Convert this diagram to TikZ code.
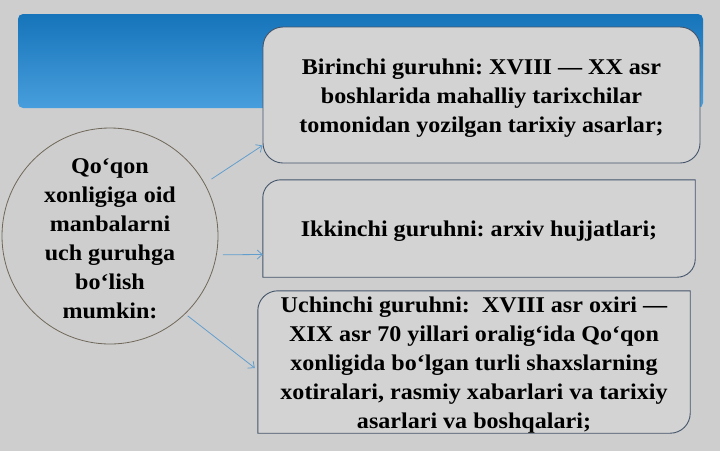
\documentclass[tikz,border=0pt]{standalone}
\usepackage{fontspec}
\setmainfont{Liberation Serif}[FakeStretch=1.07]
\usetikzlibrary{arrows.meta,calc}
\definecolor{bgc}{RGB}{206,206,206}
\definecolor{boxfill}{RGB}{211,211,211}
\definecolor{boxline}{RGB}{68,84,106}
\definecolor{circline}{RGB}{112,104,90}
\definecolor{arrc}{RGB}{98,158,205}
\definecolor{bantop}{RGB}{22,116,186}
\definecolor{banbot}{RGB}{72,158,220}
\frenchspacing
\begin{document}
\begin{tikzpicture}[x=1pt,y=-1pt,
  txt/.style={font=\fontsize{22.5}{29}\selectfont\bfseries, align=center, text=black},
  boxstyle/.style={draw=boxline, line width=0.9pt, fill=boxfill},
  arr/.style={draw=arrc, line width=0.8pt, -{Straight Barb[length=5pt,width=9pt]}}
]
\useasboundingbox (0,0) rectangle (720,451);
\fill[bgc] (0,0) rectangle (720,451);
% banner
\node[rounded corners=5pt, top color=bantop, bottom color=banbot, minimum width=685pt, minimum height=94pt, inner sep=0pt] (banner) at (360.5,61) {};
% box 1 (all corners rounded)
\node[boxstyle, rounded corners=20pt, minimum width=437pt, minimum height=136pt, inner sep=0pt] (b1) at (481.5,95) {};
\node[txt] (t1) at (481.5,98) {Birinchi guruhni: XVIII — XX asr\\boshlarida mahalliy tarixchilar\\tomonidan yozilgan tarixiy asarlar;};
% box 2 frame
\node[minimum width=432pt, minimum height=97pt, inner sep=0pt] (b2) at (479,228.5) {};
\draw[boxstyle] (b2.south west) -- ([yshift=-18pt]b2.north west)
  arc[start angle=180, end angle=90, radius=18pt] -- (b2.north east)
  -- ([yshift=18pt]b2.south east) arc[start angle=0, end angle=-90, radius=18pt] -- cycle;
\node[txt] (t2) at (479,231) {Ikkinchi guruhni: arxiv hujjatlari;};
% box 3 frame
\node[minimum width=432pt, minimum height=142pt, inner sep=0pt] (b3) at (474,362) {};
\draw[boxstyle] (b3.south west) -- ([yshift=-20pt]b3.north west)
  arc[start angle=180, end angle=90, radius=20pt] -- (b3.north east)
  -- ([yshift=20pt]b3.south east) arc[start angle=0, end angle=-90, radius=20pt] -- cycle;
\node[txt] (t3) at (474,365) {Uchinchi guruhni:\ \ XVIII asr oxiri —\\XIX asr 70 yillari oralig‘ida Qo‘qon\\xonligida bo‘lgan turli shaxslarning\\xotiralari, rasmiy xabarlari va tarixiy\\asarlari va boshqalari;};
% circle
\node[circle, draw=circline, line width=0.8pt, fill=bgc, minimum size=216pt, inner sep=0pt] (circ) at (110,236) {};
\node[txt] (tc) at (110,239) {Qo‘qon\\xonligiga oid\\manbalarni\\uch guruhga\\bo‘lish\\mumkin:};
% arrow end points
\coordinate (e1) at ([yshift=18pt]b1.south west);
\coordinate (e2) at ([yshift=-26pt]b2.west);
\coordinate (e3) at ([xshift=-3pt,yshift=-6pt]b3.west);
\draw[arr, shorten <=8pt] (circ.29) -- (e1);
\draw[arr, shorten <=6pt] (circ.-10) -- (e2);
\draw[arr, shorten <=3pt] (circ.-46) -- (e3);
\end{tikzpicture}
\end{document}
